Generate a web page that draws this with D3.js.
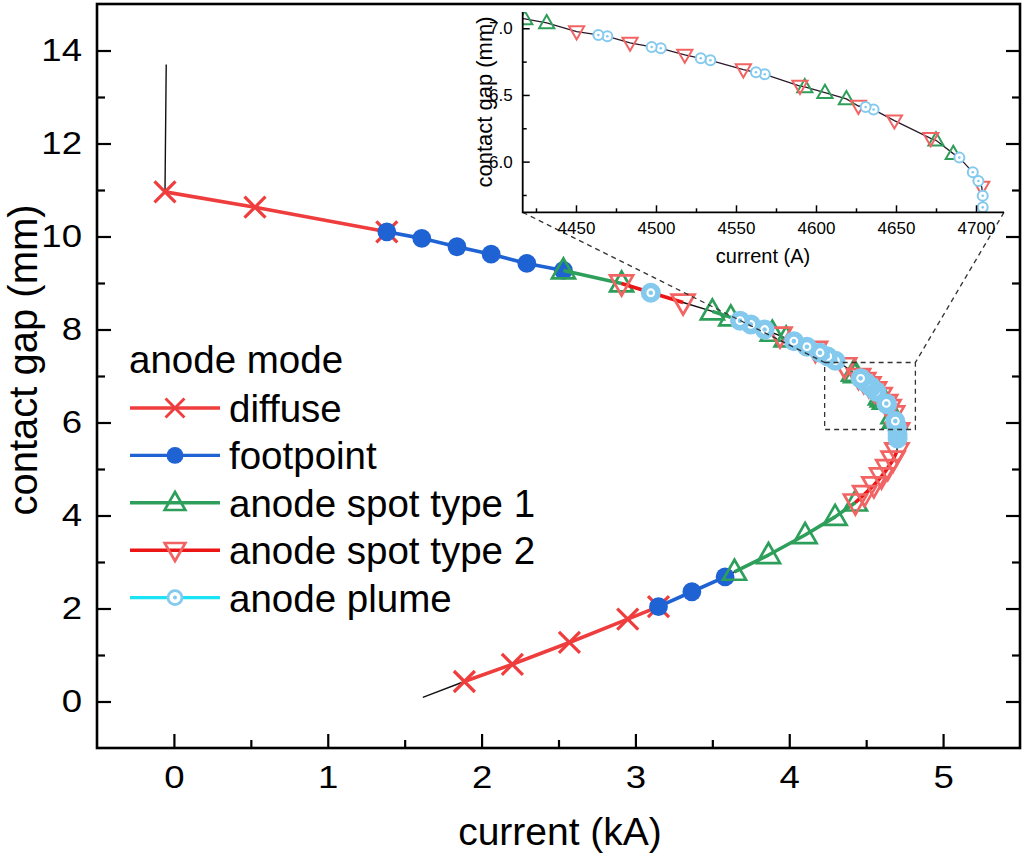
<!DOCTYPE html>
<html><head><meta charset="utf-8">
<script src="https://cdn.jsdelivr.net/npm/d3@7"></script>
<style>
body{margin:0;background:#fff}
svg{display:block}
text{font-family:"Liberation Sans",Arial,Helvetica,sans-serif;fill:#000}
</style>
</head><body>
<svg id="c" width="1025" height="858"></svg>
<script>
// ---------------- data (current in kA, contact gap in mm) ----------------
const diffuseI   = [1.888, 2.200, 2.571, 2.950, 3.150, null, 1.384, 0.527, -0.058];
const diffuseGap = [0.43, 0.80, 1.27, 1.77, 2.04, null, 10.10, 10.63, 10.96];

const footpointI   = [3.150, 3.367, 3.583, null, 2.532, 2.294, 2.062, 1.840, 1.611, 1.384];
const footpointGap = [2.04, 2.36, 2.68, null, 9.27, 9.42, 9.62, 9.78, 9.96, 10.10];

const spot1I   = [3.644, 3.865, 4.103, 4.298, 4.430, null, 4.6858, 4.6750, null, 4.6190, 4.6056, 4.5930, null, 4.4317, 4.4180, null, 3.980, null, 3.890, null, 3.620, 3.500, null, 2.910, 2.532];
const spot1Gap = [2.79, 3.15, 3.58, 3.97, 4.28, null, 6.06, 6.16, null, 6.47, 6.517, 6.56, null, 7.04, 7.07, null, 7.81, null, 7.93, null, 8.26, 8.39, null, 8.99, 9.27];

const spot2I   = [4.430, 4.490, 4.550, 4.600, 4.640, 4.675, 4.700, null, 4.7036, null, 4.6717, 4.6490, null, 4.6265, null, 4.5900, null, 4.5546, null, 4.5180, null, 4.4838, null, 4.4504, null, 4.360, null, 4.170, null, 3.940, null, 3.310, 2.910];
const spot2Gap = [4.28, 4.46, 4.65, 4.84, 5.02, 5.20, 5.38, null, 5.81, null, 6.175, 6.307, null, 6.417, null, 6.567, null, 6.69, null, 6.80, null, 6.89, null, 6.975, null, 7.21, null, 7.56, null, 7.87, null, 8.58, 8.99];

const plumeI   = [4.7042, 4.7042, null, 4.7015, 4.6980, 4.6896, null, 4.6360, 4.6310, null, 4.5680, 4.5625, null, 4.5340, 4.5280, null, 4.5030, 4.4973, null, 4.4696, 4.4640, null, 4.300, 4.250, 4.200, null, 4.115, 4.030, null, 3.840, 3.750, 3.680, null, 3.100];
const plumeGap = [5.657, 5.744, null, 5.855, 5.92, 6.03, null, 6.39, 6.41, null, 6.655, 6.67, null, 6.76, 6.775, null, 6.85, 6.86, null, 6.94, 6.95, null, 7.33, 7.42, 7.50, null, 7.63, 7.75, null, 8.00, 8.11, 8.19, null, 8.79];

// extra points of the continuous measured trace (arc start, post-arc gap)
const traceExtraI   = [1.618, -0.050];
const traceExtraGap = [0.09, 13.70];

// axes
const xDomain = [-0.5, 5.5];
const yDomain = [-1, 15];
const xTicks = [0, 1, 2, 3, 4, 5];
const xMinor = [0.5, 1.5, 2.5, 3.5, 4.5];
const yTicks = [0, 2, 4, 6, 8, 10, 12, 14];
const yMinor = [1, 3, 5, 7, 9, 11, 13];

// inset (current in A)
const insetXDomain = [4416.7, 4717.5];
const insetYDomain = [5.62, 7.122];
const insetXTicks = [4450, 4500, 4550, 4600, 4650, 4700];
const insetXMinor = [4425, 4475, 4525, 4575, 4625, 4675];
const insetYTicks = [6.0, 6.5, 7.0];
const insetYMinor = [5.75, 6.25, 6.75];
const zoomBox = [4.23, 4.82, 5.85, 7.29]; // I0, I1, gap0, gap1

const legendTitle = "anode mode";
const seriesNames = ["diffuse", "footpoint", "anode spot type 1", "anode spot type 2", "anode plume"];

// ---------------- drawing ----------------
const C = {
  diffuse: "#ef3d3d",
  foot: "#1f62d3",
  spot1: "#2e9f5a",
  spot2m: "#f26464",
  spot2l: "#ec1515",
  plumeM: "#84c9ee",
  plumeL: "#19e3f5"
};

const svg = d3.select("#c");
const M = {l: 97, r: 1020, t: 4, b: 748};
const x = d3.scaleLinear().domain(xDomain).range([M.l, M.r]);
const y = d3.scaleLinear().domain(yDomain).range([M.b, M.t]);

const zip = (a, b) => a.map((v, i) => (v === null ? null : [v, b[i]]));
const series = [
  {name: seriesNames[0], pts: zip(diffuseI, diffuseGap), type: "x", line: C.diffuse, mark: C.diffuse},
  {name: seriesNames[1], pts: zip(footpointI, footpointGap), type: "dot", line: C.foot, mark: C.foot},
  {name: seriesNames[2], pts: zip(spot1I, spot1Gap), type: "up", line: C.spot1, mark: C.spot1},
  {name: seriesNames[3], pts: zip(spot2I, spot2Gap), type: "down", line: C.spot2l, mark: C.spot2m},
  {name: seriesNames[4], pts: zip(plumeI, plumeGap), type: "plume", line: C.plumeL, mark: C.plumeM}
];

// continuous trace: every sample ordered by gap (gap grows monotonically in time)
let trace = [];
series.forEach(s => s.pts.forEach(p => { if (p) trace.push(p); }));
traceExtraI.forEach((v, i) => trace.push([v, traceExtraGap[i]]));
trace.sort((a, b) => a[1] - b[1]);

function drawMarker(g, type, color, size) {
  if (type === "x") {
    const a = 10.5 * size;
    g.append("path").attr("d", `M${-a},${-a}L${a},${a}M${-a},${a}L${a},${-a}`)
      .attr("stroke", color).attr("stroke-width", 3.2 * size).attr("fill", "none");
  } else if (type === "dot") {
    g.append("circle").attr("r", 9.4 * size).attr("fill", color);
  } else if (type === "up" || type === "down") {
    const w = 23 * size, h = 20 * size, s = type === "up" ? 1 : -1;
    g.append("path")
      .attr("d", `M0,${-s * h * 0.6}L${w / 2},${s * h * 0.4}L${-w / 2},${s * h * 0.4}Z`)
      .attr("stroke", color).attr("stroke-width", (size < 0.8 ? 2 : 2.7)).attr("fill", "none")
      .attr("stroke-linejoin", "miter");
  } else if (type === "plume") {
    g.append("circle").attr("r", 7.2 * size).attr("fill", "#fff")
      .attr("stroke", color).attr("stroke-width", 5.6 * size);
    g.append("circle").attr("r", 2.3 * size).attr("fill", color);
  }
}

const defs = svg.append("defs");
defs.append("clipPath").attr("id", "mainclip").append("rect")
  .attr("x", M.l).attr("y", M.t).attr("width", M.r - M.l).attr("height", M.b - M.t);

const plot = svg.append("g").attr("clip-path", "url(#mainclip)");
const lineGen = (sx, sy) => d3.line().defined(d => d !== null).x(d => sx(d[0])).y(d => sy(d[1]));

plot.append("path").datum(trace).attr("d", lineGen(x, y))
  .attr("fill", "none").attr("stroke", "#111").attr("stroke-width", 1.4);

series.forEach(s => {
  plot.append("path").datum(s.pts).attr("d", lineGen(x, y))
    .attr("fill", "none").attr("stroke", s.line).attr("stroke-width", 3.6)
    .attr("stroke-linejoin", "round");
  s.pts.filter(p => p).forEach(p => {
    const g = plot.append("g").attr("transform", `translate(${x(p[0])},${y(p[1])})`);
    drawMarker(g, s.type, s.mark, 1);
  });
});

// ---------------- main axes ----------------
const K = 1.18; // horizontal widening of the tick-label glyphs
const widen = sel => sel.each(function () {
  const t = d3.select(this);
  const x0 = +(t.attr("x") || 0);
  t.attr("x", x0 / K).attr("transform", `scale(${K},1)`);
});
const axStyle = g => {
  g.select(".domain").remove();
  g.selectAll(".tick line").attr("stroke", "#000").attr("stroke-width", 2.2);
  g.selectAll(".tick text").attr("font-size", 31).attr("font-family", '"Liberation Sans",Arial,sans-serif').attr("fill", "#000");
  widen(g.selectAll(".tick text"));
};
svg.append("g").attr("transform", `translate(0,${M.b})`)
  .call(d3.axisBottom(x).tickValues(xTicks).tickSize(-14).tickPadding(18).tickFormat(d3.format("d")))
  .call(axStyle);
svg.append("g").attr("transform", `translate(0,${M.b})`)
  .call(d3.axisBottom(x).tickValues(xMinor).tickSize(-8).tickFormat(""))
  .call(axStyle);
svg.append("g").attr("transform", `translate(${M.l},0)`)
  .call(d3.axisLeft(y).tickValues(yTicks).tickSize(-14).tickPadding(15).tickFormat(d3.format("d")))
  .call(axStyle);
svg.append("g").attr("transform", `translate(${M.l},0)`)
  .call(d3.axisLeft(y).tickValues(yMinor).tickSize(-8).tickFormat(""))
  .call(axStyle);
svg.append("g").attr("transform", `translate(${M.r},0)`)
  .call(d3.axisRight(y).tickValues(yTicks).tickSize(-14).tickFormat(""))
  .call(axStyle);
svg.append("g").attr("transform", `translate(${M.r},0)`)
  .call(d3.axisRight(y).tickValues(yMinor).tickSize(-8).tickFormat(""))
  .call(axStyle);

svg.append("rect").attr("x", M.l).attr("y", M.t).attr("width", M.r - M.l).attr("height", M.b - M.t)
  .attr("fill", "none").attr("stroke", "#000").attr("stroke-width", 2.6);

svg.append("text").attr("x", 560).attr("y", 845).attr("text-anchor", "middle")
  .attr("font-size", 39).text("current (kA)");
svg.append("text").attr("transform", `translate(37,360) rotate(-90)`)
  .attr("text-anchor", "middle").attr("font-size", 40).text("contact gap (mm)");

// ---------------- zoom box and connectors ----------------
const IX = d3.scaleLinear().domain(insetXDomain).range([522.7, 1004]);
const IY = d3.scaleLinear().domain(insetYDomain).range([212.3, 12]);
const applyDash = sel => sel.attr("stroke", "#333").attr("stroke-width", 1.3)
  .attr("stroke-dasharray", "5,4").attr("fill", "none");
applyDash(svg.append("rect").attr("x", x(zoomBox[0])).attr("y", y(zoomBox[3]))
  .attr("width", x(zoomBox[1]) - x(zoomBox[0])).attr("height", y(zoomBox[2]) - y(zoomBox[3])));
applyDash(svg.append("line").attr("x1", IX(insetXDomain[0])).attr("y1", IY(insetYDomain[0]))
  .attr("x2", x(zoomBox[0])).attr("y2", y(zoomBox[3])));
applyDash(svg.append("line").attr("x1", IX(insetXDomain[1])).attr("y1", IY(insetYDomain[0]))
  .attr("x2", x(zoomBox[1])).attr("y2", y(zoomBox[3])));

// ---------------- inset ----------------
defs.append("clipPath").attr("id", "insetclip").append("rect")
  .attr("x", IX.range()[0]).attr("y", IY.range()[1])
  .attr("width", IX.range()[1] - IX.range()[0]).attr("height", IY.range()[0] - IY.range()[1]);
svg.append("rect").attr("x", IX.range()[0]).attr("y", IY.range()[1])
  .attr("width", IX.range()[1] - IX.range()[0]).attr("height", IY.range()[0] - IY.range()[1])
  .attr("fill", "#fff");
const inset = svg.append("g").attr("clip-path", "url(#insetclip)");
const ixk = v => IX(v * 1000);
inset.append("path").datum(trace).attr("d", lineGen(ixk, IY))
  .attr("fill", "none").attr("stroke", "#2a1a2a").attr("stroke-width", 1.3);
series.forEach(s => {
  s.pts.filter(p => p).forEach(p => {
    const g = inset.append("g").attr("transform", `translate(${ixk(p[0])},${IY(p[1])})`);
    if (s.type === "plume") {
      g.append("circle").attr("r", 5).attr("fill", "#fff").attr("stroke", s.mark).attr("stroke-width", 2);
      g.append("circle").attr("r", 1.3).attr("fill", s.mark);
    } else {
      drawMarker(g, s.type, s.mark, 0.66);
    }
  });
});
const inStyle = g => {
  g.select(".domain").remove();
  g.selectAll(".tick line").attr("stroke", "#000").attr("stroke-width", 1.5);
  g.selectAll(".tick text").attr("font-size", 17).attr("font-family", '"Liberation Sans",Arial,sans-serif').attr("fill", "#000");
};
svg.append("g").attr("transform", `translate(0,${IY.range()[0]})`)
  .call(d3.axisBottom(IX).tickValues(insetXTicks).tickSize(-7).tickPadding(10).tickFormat(d3.format("d")))
  .call(inStyle);
svg.append("g").attr("transform", `translate(0,${IY.range()[0]})`)
  .call(d3.axisBottom(IX).tickValues(insetXMinor).tickSize(-4).tickFormat(""))
  .call(inStyle);
svg.append("g").attr("transform", `translate(${IX.range()[0]},0)`)
  .call(d3.axisLeft(IY).tickValues(insetYTicks).tickSize(-7).tickPadding(10).tickFormat(d3.format(".1f")))
  .call(inStyle);
svg.append("g").attr("transform", `translate(${IX.range()[0]},0)`)
  .call(d3.axisLeft(IY).tickValues(insetYMinor).tickSize(-4).tickFormat(""))
  .call(inStyle);
svg.append("path").attr("d", `M${IX.range()[0]},${IY.range()[1]}V${IY.range()[0]}H${IX.range()[1]}`)
  .attr("fill", "none").attr("stroke", "#000").attr("stroke-width", 1.8);
svg.append("text").attr("x", 763).attr("y", 263).attr("text-anchor", "middle")
  .attr("font-size", 20).text("current (A)");
svg.append("text").attr("transform", `translate(492,102) rotate(-90)`)
  .attr("text-anchor", "middle").attr("font-size", 22).text("contact gap (mm)");

// ---------------- legend ----------------
const leg = svg.append("g");
leg.append("text").attr("x", 129).attr("y", 373).attr("font-size", 38.5).text(legendTitle);
series.forEach((s, i) => {
  const ly = 408 + i * 47.4;
  leg.append("line").attr("x1", 130).attr("x2", 220).attr("y1", ly).attr("y2", ly)
    .attr("stroke", s.line).attr("stroke-width", 3.4);
  const g = leg.append("g").attr("transform", `translate(175,${ly})`);
  if (s.type === "plume") {
    g.append("circle").attr("r", 7).attr("fill", "#fff").attr("stroke", s.mark).attr("stroke-width", 2.8);
    g.append("circle").attr("r", 2).attr("fill", s.mark);
  } else {
    drawMarker(g, s.type, s.mark, 0.9);
  }
  leg.append("text").attr("x", 229).attr("y", ly + 14).attr("font-size", 38.5).text(s.name);
});
</script>
</body></html>
